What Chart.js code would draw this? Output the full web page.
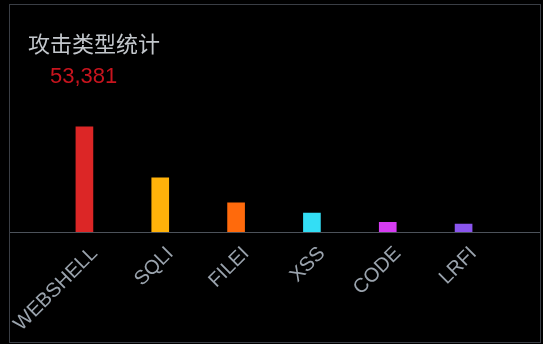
<!DOCTYPE html>
<html>
<head>
<meta charset="utf-8">
<script src="https://cdn.jsdelivr.net/npm/chart.js@4/dist/chart.umd.min.js"></script>
<style>
  html, body { margin: 0; padding: 0; background: #000; }
  #wrap { position: relative; width: 543px; height: 344px; background: #000; overflow: hidden; }
  #frame { position: absolute; left: 9px; top: 4px; width: 530px; height: 337px; border: 1px solid #3a3e45; box-sizing: content-box; pointer-events: none; }
  #title { position: absolute; left: 28px; top: 26px; font: 22px "Noto Sans CJK SC", sans-serif; color: #c3c7cc; white-space: nowrap; }
  #total { position: absolute; left: 50px; top: 63px; font: 22px "Liberation Sans", Arial, sans-serif; color: #c8141e; white-space: nowrap; }
  canvas { position: absolute; left: 0; top: 0; }
</style>
</head>
<body>
<div id="wrap">
  <canvas id="c" width="543" height="344"></canvas>
  <div id="frame"></div>
  <div id="title">攻击类型统计</div>
  <div id="total"></div>
</div>
<script>
const categories = ["WEBSHELL", "SQLI", "FILEI", "XSS", "CODE", "LRFI"];
const attackCounts = [24950, 12830, 6890, 4510, 2300, 1901];
const barColors = ["#dc2626", "#ffb20a", "#ff6a0c", "#33def5", "#d63cf2", "#8a55ee"];
const titleText = "攻击类型统计";

const total = attackCounts.reduce((a, b) => a + b, 0);
document.getElementById("title").textContent = titleText;
document.getElementById("total").textContent = total.toLocaleString("en-US");

const baseLine = {
  id: "baseLine",
  afterDatasetsDraw(chart) {
    const ctx = chart.ctx;
    const y = Math.round(chart.scales.y.getPixelForValue(0)) + 0.5;
    ctx.save();
    ctx.strokeStyle = "#4c525a";
    ctx.lineWidth = 1;
    ctx.beginPath();
    ctx.moveTo(10, y);
    ctx.lineTo(540, y);
    ctx.stroke();
    ctx.restore();
  }
};

new Chart(document.getElementById("c"), {
  type: "bar",
  data: {
    labels: categories,
    datasets: [{
      data: attackCounts,
      backgroundColor: barColors,
      borderWidth: 0,
      barThickness: 17
    }]
  },
  options: {
    responsive: false,
    animation: false,
    layout: { padding: { left: 46.5, right: 41.5, top: 97, bottom: 0 } },
    plugins: { legend: { display: false }, tooltip: { enabled: false }, title: { display: false } },
    scales: {
      y: { display: false, min: 0, max: 32000 },
      x: {
        grid: { display: false, drawTicks: false },
        border: { display: false },
        ticks: {
          color: "#9aa3ad",
          font: { family: "Liberation Sans", size: 20 },
          minRotation: 45,
          maxRotation: 45,
          padding: 10,
          labelOffset: 10,
          autoSkip: false
        },
        afterFit(scale) {
          scale.height = 112;
          scale.paddingLeft = 0;
          scale.paddingRight = 0;
        }
      }
    }
  },
  plugins: [baseLine]
});
</script>
</body>
</html>
